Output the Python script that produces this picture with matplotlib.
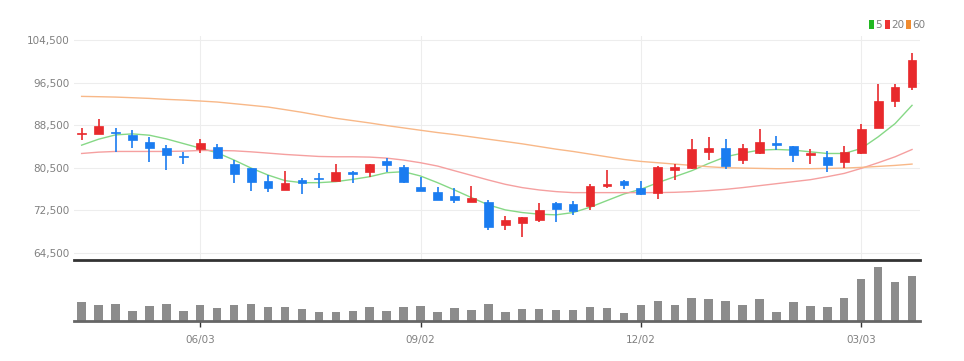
import numpy as np
import pandas as pd
import matplotlib.pyplot as plt
from matplotlib.patches import Rectangle

# weekly candles (Apr 2024 - Mar 2025)
dates = pd.date_range('2024-04-15', periods=50, freq='7D')

opens = [86900, 86900, 87300, 86600, 85400, 84250, 82800, 84000, 84450, 81200,
         80400, 78100, 76350, 78200, 78600, 78100, 79750, 79650, 81800, 80700,
         76850, 75950, 75200, 74150, 74150, 69800, 70100, 70750, 73850, 73700,
         73350, 77000, 78100, 76800, 75850, 80100, 80400, 83500, 84250, 81950,
         83300, 85150, 84550, 82950, 82450, 81650, 83200, 88050, 93050, 95650]
closes = [87100, 88300, 86950, 85700, 84200, 82950, 82450, 85200, 82300, 79400,
          77850, 76650, 77600, 77600, 78350, 79650, 79400, 81200, 81100, 77900,
          76200, 74450, 74450, 74800, 69350, 70750, 71250, 72600, 72850, 72400,
          77150, 77400, 77200, 75600, 80700, 80700, 84050, 84200, 80900, 84250,
          85300, 84700, 82900, 83300, 81000, 83500, 87850, 93050, 95650, 100750]
highs = [88050, 89700, 88050, 87550, 86300, 84750, 83500, 86000, 85050, 81950,
         80400, 79100, 79900, 78500, 79600, 81300, 79950, 81300, 82250, 80950,
         78700, 76950, 76800, 77150, 74450, 71500, 71300, 73850, 74150, 74300,
         77450, 80100, 78150, 78100, 80900, 81200, 86000, 86300, 86000, 84950,
         87850, 86450, 84650, 84050, 83700, 84550, 88700, 96150, 96300, 102050]
lows = [85800, 86800, 83550, 84300, 81500, 80100, 81300, 83300, 82200, 77600,
        76200, 76050, 76300, 75550, 76650, 77950, 77600, 78700, 79750, 77600,
        76100, 74400, 73850, 74100, 68850, 68750, 67500, 70400, 70400, 71650,
        72600, 76800, 76450, 75400, 74600, 78200, 80300, 81950, 80200, 81300,
        83050, 83800, 81650, 81200, 79750, 80550, 83050, 87950, 91900, 95150]
volumes = [58, 48, 52, 31, 45, 52, 31, 48, 38, 48,
           52, 43, 41, 36, 28, 26, 31, 43, 31, 43,
           46, 28, 38, 33, 51, 28, 37, 37, 33, 33,
           43, 38, 24, 48, 61, 48, 68, 65, 61, 48,
           66, 28, 56, 46, 41, 70, 126, 161, 117, 135]

# moving averages
ma5 = [84750, 85870, 86680, 86870, 86620, 85930, 85060, 84190, 83320, 81950,
       80450, 79140, 78090, 77710, 77710, 77900, 78330, 78830, 79580, 79770,
       78960, 77710, 76340, 74910, 73540, 72600, 72100, 71790, 71670, 72100,
       73100, 74350, 75590, 76470, 77710, 78830, 79950, 81320, 82570, 83260,
       83820, 83940, 83820, 83500, 83190, 83190, 84130, 86310, 88800, 92230]
ma20 = [83190, 83440, 83570, 83570, 83570, 83570, 83630, 83750, 83750, 83690,
        83500, 83260, 83010, 82820, 82630, 82570, 82570, 82510, 82320, 81950,
        81450, 80830, 79950, 79080, 78210, 77400, 76780, 76340, 76030, 75840,
        75840, 75840, 75840, 75840, 75840, 75900, 76030, 76220, 76460, 76780,
        77150, 77520, 77900, 78270, 78830, 79450, 80390, 81450, 82570, 83940]
ma60 = [93910, 93850, 93780, 93660, 93530, 93350, 93220, 93040, 92850, 92540,
        92230, 91910, 91420, 90920, 90360, 89800, 89360, 88920, 88430, 87990,
        87550, 87120, 86740, 86310, 85870, 85440, 85000, 84500, 84000, 83570,
        83070, 82570, 82070, 81700, 81450, 81200, 80950, 80700, 80510, 80450,
        80390, 80330, 80330, 80330, 80390, 80450, 80580, 80760, 80950, 81200]

yticks = [64500, 72500, 80500, 88500, 96500, 104500]
xtick_labels = ['06/03', '09/02', '12/02', '03/03']

UP = '#e8292c'
DOWN = '#1a7cf0'
plt.rcParams['font.family'] = ['DejaVu Sans Condensed', 'Liberation Sans Narrow', 'DejaVu Sans']

fig = plt.figure(figsize=(9.64, 3.61), dpi=100)
W, H = 964, 361
ax = fig.add_axes([74 / W, (H - 260) / H, 846 / W, 224 / H])
axv = fig.add_axes([74 / W, (H - 321) / H, 846 / W, 59 / H])

x = np.arange(len(dates))
labels = dates.strftime('%m/%d')
tick_pos = [int(np.where(labels == t)[0][0]) for t in xtick_labels]

# candles
for i in x:
    o, c, h, l = opens[i], closes[i], highs[i], lows[i]
    col = UP if c >= o else DOWN
    ax.vlines(i, l, h, color=col, lw=1.2, zorder=3)
    body = max(abs(c - o), 120)
    ax.add_patch(Rectangle((i - 0.26, min(o, c)), 0.52, body,
                           facecolor=col, edgecolor=col, lw=0.5, zorder=4))

ax.plot(x, ma5, color='#86d886', lw=1.0, zorder=2)
ax.plot(x, ma20, color='#f5a0a0', lw=1.0, zorder=2)
ax.plot(x, ma60, color='#f8b888', lw=1.0, zorder=2)

ax.set_xlim(-0.45, 49.47)
ax.set_ylim(63190, 104500 + 4 * 187)
ax.set_yticks(yticks)
ax.set_yticklabels([f'{v:,}' for v in yticks], fontsize=7.5, color='#808080')
ax.set_xticks(tick_pos)
ax.set_xticklabels([])
ax.tick_params(length=0, pad=3)
ax.grid(True, color='#ededed', lw=0.8, zorder=0)
for s in ['top', 'right', 'left']:
    ax.spines[s].set_visible(False)
ax.spines['bottom'].set_color('#333333')
ax.spines['bottom'].set_linewidth(2)

# volume
axv.bar(x, volumes, width=0.5, color='#8c8c8c', zorder=2)
axv.set_xlim(-0.45, 49.47)
axv.set_ylim(0, 177)
axv.set_yticks([])
axv.set_xticks(tick_pos)
axv.set_xticklabels(xtick_labels, fontsize=7.5, color='#808080')
axv.tick_params(axis='x', length=4, width=1, color='#333333', pad=6)
for s in ['top', 'right', 'left']:
    axv.spines[s].set_visible(False)
axv.spines['bottom'].set_color('#666666')
axv.spines['bottom'].set_linewidth(2)

# legend
leg = [('5', '#22b822'), ('20', '#ee3333'), ('60', '#f08c30')]
lx = 869
for name, col in leg:
    fig.patches.append(Rectangle((lx / W, (H - 29) / H), 5 / W, 9 / H,
                                 facecolor=col, edgecolor='none',
                                 transform=fig.transFigure, figure=fig))
    fig.text((lx + 6) / W, (H - 25) / H, name, fontsize=7.5, color='#808080',
             va='center', ha='left')
    lx += 11 + 5 * len(name)

fig.savefig('out.png', dpi=100)
